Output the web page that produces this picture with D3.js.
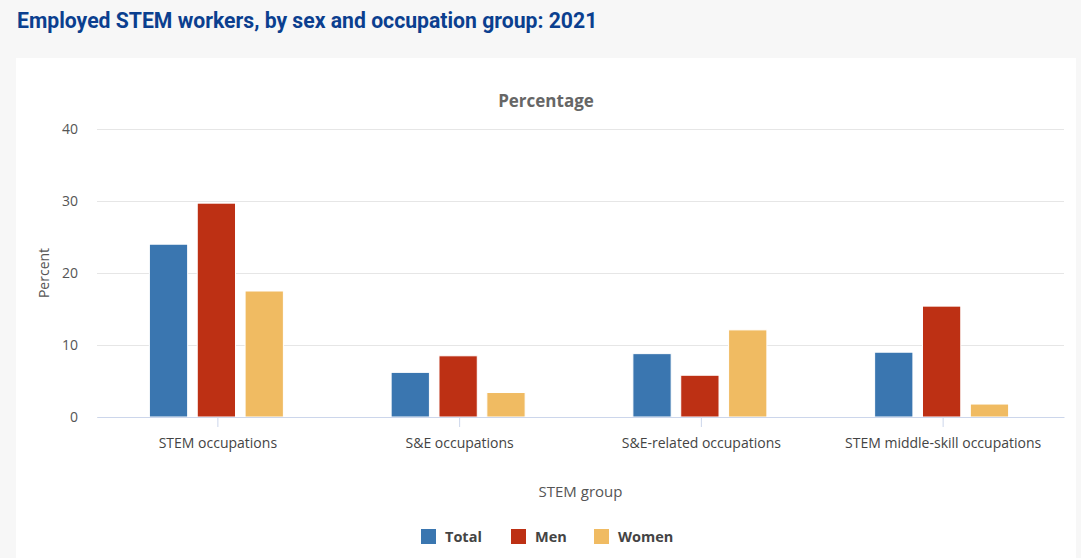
<!DOCTYPE html>
<html>
<head>
<meta charset="utf-8">
<script src="https://cdn.jsdelivr.net/npm/d3@7"></script>
<style>
  body { margin: 0; background: #f7f7f7; font-family: "Open Sans", sans-serif; }
  #title { position: absolute; left: 17px; top: 8px; font-family: Roboto, sans-serif; font-weight: bold; font-size: 21.2px; color: #0b3f8f; }
  #chart { position: absolute; left: 16px; top: 58px; }
</style>
</head>
<body>
<div id="title">Employed STEM workers, by sex and occupation group: 2021</div>
<div id="chart"></div>
<script>
var categories = ["STEM occupations", "S&E occupations", "S&E-related occupations", "STEM middle-skill occupations"]
var series_names = ["Total", "Men", "Women"]
var series_colors = ["#3a76b0", "#bd3014", "#f0bb62"]
var total_values = [24.0, 6.2, 8.8, 9.0]
var men_values = [29.7, 8.5, 5.8, 15.4]
var women_values = [17.5, 3.4, 12.1, 1.8]
var y_ticks = [0, 10, 20, 30, 40]

var series_values = [total_values, men_values, women_values]

var width = 1060, height = 500
var margin = {left: 81, right: 12, top: 71, bottom: 141}

var svg = d3.select("#chart").append("svg")
  .attr("width", width).attr("height", height)
  .style("background", "#fff")

var x = d3.scaleBand().domain(categories).range([margin.left, width - margin.right])
var xs = d3.scaleBand().domain(series_names).range([0, 134]).paddingInner(0.2)
var y = d3.scaleLinear().domain([0, 40]).range([height - margin.bottom, margin.top])

// grid
svg.append("g").selectAll("line").data(y_ticks).join("line")
  .attr("x1", margin.left).attr("x2", width - margin.right)
  .attr("y1", d => y(d) + 0.5).attr("y2", d => y(d) + 0.5)
  .attr("stroke", "#e6e6e6")

// y tick labels
var yAxis = svg.append("g").attr("transform", "translate(" + margin.left + ",0)")
  .call(d3.axisLeft(y).tickValues(y_ticks).tickSize(0).tickPadding(19))
yAxis.select(".domain").remove()
yAxis.selectAll("text").attr("fill", "#555").style("font-size", "14px").style("font-family", "Open Sans")

// bars
var groups = svg.append("g").selectAll("g").data(categories).join("g")
  .attr("transform", d => "translate(" + (x(d) + x.bandwidth() / 2 - 68.5) + ",0)")
groups.selectAll("rect").data((d, i) => series_names.map((s, j) => ({s: s, v: series_values[j][i], c: series_colors[j]})))
  .join("rect")
  .attr("x", d => xs(d.s))
  .attr("width", xs.bandwidth())
  .attr("y", d => y(d.v))
  .attr("height", d => y(0) - y(d.v))
  .attr("fill", d => d.c)
  .attr("stroke", "#fff").attr("stroke-width", 1)

// x axis
var xAxis = svg.append("g").attr("transform", "translate(0," + y(0) + ")")
  .call(d3.axisBottom(x).tickSize(10).tickPadding(11).tickSizeOuter(0))
xAxis.select(".domain").attr("stroke", "#ccd6eb")
xAxis.selectAll("line").attr("stroke", "#ccd6eb")
xAxis.selectAll("text").attr("fill", "#444").style("font-size", "14px").style("font-family", "Open Sans")

// titles
svg.append("text").attr("x", width / 2).attr("y", 49).attr("text-anchor", "middle")
  .style("font-size", "17px").style("font-weight", "bold").attr("fill", "#666").text("Percentage")
svg.append("text").attr("transform", "translate(33," + (y(20)) + ") rotate(-90)")
  .attr("text-anchor", "middle").style("font-size", "14px").attr("fill", "#555").text("Percent")
svg.append("text").attr("x", (margin.left + width - margin.right) / 2).attr("y", 439).attr("text-anchor", "middle")
  .style("font-size", "15px").attr("fill", "#555").text("STEM group")

// legend
var legend_x = [405, 495, 578]
var legend = svg.append("g").selectAll("g").data(series_names).join("g")
  .attr("transform", (d, i) => "translate(" + legend_x[i] + ",471)")
legend.append("rect").attr("width", 15).attr("height", 15).attr("fill", (d, i) => series_colors[i])
legend.append("text").attr("x", 24).attr("y", 13).style("font-size", "14.5px").style("font-weight", "bold")
  .attr("fill", "#444").text(d => d)
</script>
</body>
</html>
